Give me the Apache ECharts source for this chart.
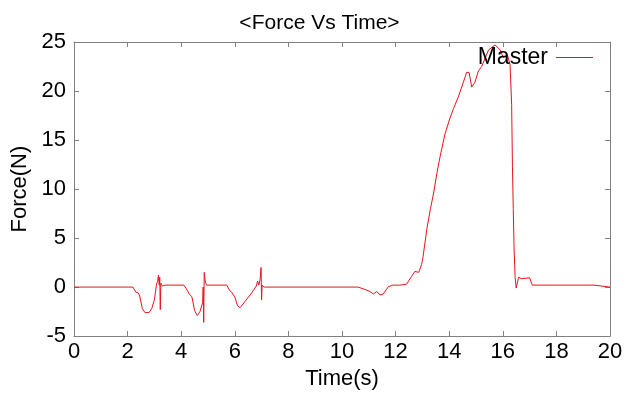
<!DOCTYPE html>
<html>
<head>
<meta charset="utf-8">
<script src="https://cdn.jsdelivr.net/npm/echarts@6/dist/echarts.min.js"></script>
<style>
  html, body { margin: 0; padding: 0; background: #fff; }
  #chart { width: 639px; height: 395px; }
</style>
</head>
<body>
<div id="chart"></div>
<script>
// values
const timeVals = [
  0, 2.2, 2.3, 2.35, 2.4, 2.45, 2.55, 2.65, 2.8, 2.9, 3.0, 3.08, 3.12, 3.15, 3.18, 3.2, 3.22, 3.24, 3.3, 3.4,
  4.1, 4.2, 4.3, 4.35, 4.4, 4.5, 4.6, 4.7, 4.8, 4.82, 4.84, 4.86, 4.9, 4.95, 5.0,
  5.7, 5.8, 5.9, 5.95, 6.0, 6.1, 6.2, 6.4, 6.6, 6.8, 6.85, 6.9, 6.95, 6.98, 7.0, 7.02, 7.1,
  10.6, 10.67, 10.86, 11.04, 11.17, 11.3, 11.42, 11.54, 11.73, 11.92, 12.16, 12.41, 12.6, 12.72, 12.86, 12.97,
  13.02, 13.17, 13.3, 13.42, 13.54, 13.66, 13.84, 14.03, 14.16, 14.34, 14.53, 14.65, 14.74, 14.84, 14.96,
  15.09, 15.21, 15.35, 15.47, 15.71, 15.9, 16.02, 16.17, 16.27, 16.33, 16.36, 16.39, 16.42, 16.46, 16.5,
  16.59, 16.7, 17.0, 17.1, 19.4, 19.45, 20
];
const forceVals = [
  0, 0, -0.5, -0.7, -0.6, -0.9, -2.2, -2.6, -2.6, -2.2, -1.3, 0.3, 0.6, 1.2, 0.2, 1.0, -2.3, 0.4, 0.1, 0.2,
  0.2, -0.2, -0.7, -0.6, -1.0, -2.4, -2.9, -2.5, -1.6, 0.0, -3.6, 1.5, 0.5, 0.2, 0.2,
  0.2, -0.3, -0.6, -0.5, -1.0, -1.9, -2.1, -1.4, -0.7, 0.1, 0.6, 0.2, 0.9, 2.0, -1.3, 0.2, 0.0,
  0.0, 0.15, -0.25, -0.45, -0.7, -0.45, -0.8, -0.7, 0.05, 0.2, 0.2, 0.3, 1.1, 1.6, 1.5, 2.3,
  3.0, 6.0, 8.0, 9.6, 11.6, 13.3, 15.6, 17.25, 18.2, 19.4, 20.9, 21.9, 21.9, 20.4, 20.9,
  22.05, 22.5, 23.4, 24.2, 24.7, 24.2, 23.4, 23.7, 22.7, 18.6, 12.3, 8.0, 4.0, 1.0, -0.1,
  1.0, 0.85, 0.95, 0.2, 0.2, 0.0, 0.0
];
const xTicks = [0, 2, 4, 6, 8, 10, 12, 14, 16, 18, 20];
const yTicks = [-5, 0, 5, 10, 15, 20, 25];

const points = timeVals.map((t, i) => [t, forceVals[i]]);
const font = 'Liberation Sans, Arial, sans-serif';
const axisGray = '#808080';

const chart = echarts.init(document.getElementById('chart'));
const baseX = {
  type: 'value',
  min: xTicks[0],
  max: xTicks[xTicks.length - 1],
  interval: 2,
  axisLine: { show: true, onZero: false, lineStyle: { color: axisGray } },
  axisTick: { show: true, inside: true, length: 5, lineStyle: { color: axisGray } },
  splitLine: { show: false }
};
const baseY = {
  type: 'value',
  min: yTicks[0],
  max: yTicks[yTicks.length - 1],
  interval: 5,
  axisLine: { show: true, onZero: false, lineStyle: { color: axisGray } },
  axisTick: { show: true, inside: true, length: 5, lineStyle: { color: axisGray } },
  splitLine: { show: false }
};

const option = {
  animation: false,
  backgroundColor: '#fff',
  title: {
    text: '<Force Vs Time>',
    left: 'center',
    top: 8,
    textStyle: { fontFamily: font, fontSize: 21, fontWeight: 'normal', color: '#000' }
  },
  legend: {
    data: ['Master'],
    right: 41,
    top: 41,
    align: 'right',
    icon: 'rect',
    itemWidth: 37,
    itemHeight: 1,
    textStyle: { fontFamily: font, fontSize: 23, color: '#000', padding: [0, 3, 0, 0] }
  },
  grid: { left: 74, right: 29, top: 42, bottom: 51 },
  xAxis: [
    Object.assign({}, baseX, {
      position: 'bottom',
      name: 'Time(s)',
      nameLocation: 'middle',
      nameGap: 28,
      nameTextStyle: { fontFamily: font, fontSize: 22, color: '#000' },
      axisLabel: { fontFamily: font, fontSize: 22, color: '#000', margin: 5 }
    }),
    Object.assign({}, baseX, { position: 'top', axisLabel: { show: false } })
  ],
  yAxis: [
    Object.assign({}, baseY, {
      position: 'left',
      name: 'Force(N)',
      nameLocation: 'middle',
      nameGap: 39,
      nameTextStyle: { fontFamily: font, fontSize: 22, color: '#000' },
      axisLabel: { fontFamily: font, fontSize: 22, color: '#000', margin: 8 }
    }),
    Object.assign({}, baseY, { position: 'right', axisLabel: { show: false } })
  ],
  series: [
    {
      name: 'Master',
      type: 'line',
      data: points,
      symbol: 'none',
      lineStyle: { color: '#e8131b', width: 1 },
      itemStyle: { color: '#e8131b' }
    }
  ]
};

chart.setOption(option);
</script>
</body>
</html>
